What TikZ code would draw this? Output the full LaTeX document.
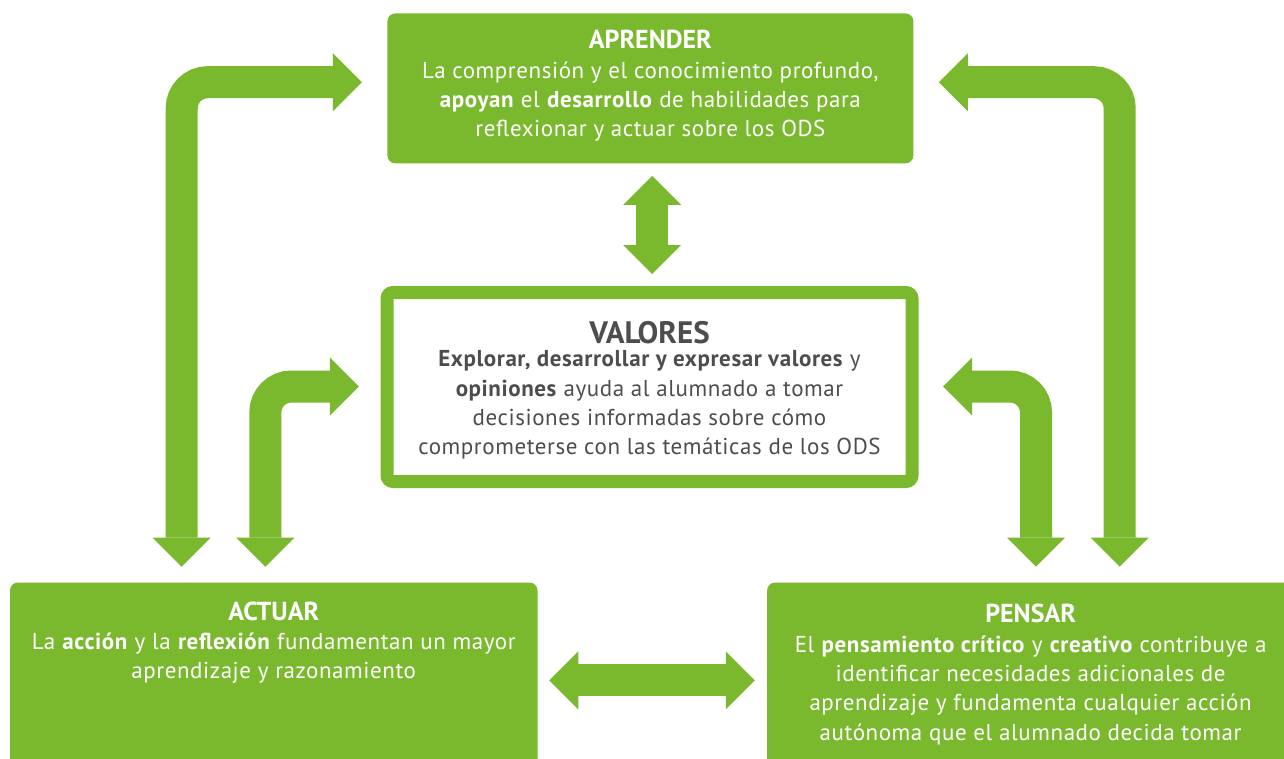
\documentclass[tikz,border=0pt]{standalone}
\usepackage{fontspec}
\setmainfont{PT Sans}
\newfontfamily\odsbodyfont{PT Sans}[LetterSpace=2.5]
\usetikzlibrary{arrows.meta}
\definecolor{odsgreen}{HTML}{7AB92E}
\definecolor{odsgray}{HTML}{4D4D4D}
\begin{document}
\begin{tikzpicture}[x=1pt,y=-1pt,
  greenbox/.style={fill=odsgreen, draw=none, rounded corners=8pt},
  boxtitle/.style={text=white, font=\fontsize{26}{30}\selectfont\bfseries, anchor=base, inner sep=0pt},
  boxbody/.style={text=white, font=\odsbodyfont\fontsize{23}{29.3}\selectfont, align=center, anchor=north, inner sep=0pt},
  link/.style={draw=odsgreen, line width=32pt, rounded corners=26pt,
    {Triangle[length=29pt,width=58pt,line width=0pt]}-{Triangle[length=29pt,width=58pt,line width=0pt]}}]
\useasboundingbox (0,0) rectangle (1284,758);
\clip (0,0) rectangle (1284,758);
\fill[white] (0,0) rectangle (1284,758);

% boxes
\node[greenbox, minimum width=526pt, minimum height=150pt] (aprender) at (650.4,88.4) {};
\node[draw=odsgreen, line width=13pt, fill=white, rounded corners=6pt,
      minimum width=525pt, minimum height=189pt] (valores) at (649.5,387) {};
\node[greenbox, minimum width=527.5pt, minimum height=200pt] (actuar) at (273.75,682.5) {};
\node[greenbox, minimum width=527pt, minimum height=200pt] (pensar) at (1030.6,682.5) {};

% connector guide coordinates
\coordinate (lo) at (181.7,82.2);
\coordinate (li) at (265.3,386.5);
\coordinate (ro) at (1119.7,82.2);
\coordinate (ri) at (1036,386.5);
\coordinate (vx) at (652.2,220);
\coordinate (hy) at (650,680.3);

% connectors
\draw[link, shorten <=15.6pt, shorten >=25.4pt] (lo |- actuar.north) |- (aprender.west |- lo);
\draw[link, shorten <=15.6pt, shorten >=21.7pt] (li |- actuar.north) |- (valores.west |- li);
\draw[link, shorten <=15.6pt, shorten >=25.3pt] (ro |- pensar.north) |- (aprender.east |- ro);
\draw[link, shorten <=15.6pt, shorten >=24.5pt] (ri |- pensar.north) |- (valores.east |- ri);
\draw[link, shorten <=12.2pt, shorten >=12pt] (vx |- aprender.south) -- (vx |- valores.north);
\draw[link, shorten <=11.6pt, shorten >=12.1pt] (actuar.east |- hy) -- (pensar.west |- hy);

% texts
\node[boxtitle] (aprtitle) at (650.4,48) {APRENDER};
\node[boxbody] (aprbody) at (650.4,57.5) {La comprensión y el conocimiento profundo,\strut\\
  \textbf{apoyan} el \textbf{desarrollo} de habilidades para\\
  reflexionar y actuar sobre los ODS};

\node[boxtitle, text=odsgray, font=\fontsize{31}{34}\selectfont\bfseries] (valtitle) at (649.5,343) {VALORES};
\node[boxbody, text=odsgray] (valbody) at (649.5,346) {\textbf{Explorar, desarrollar y expresar valores} y\strut\\
  \textbf{opiniones} ayuda al alumnado a tomar\\
  decisiones informadas sobre cómo\\
  comprometerse con las temáticas de los ODS};

\node[boxtitle] (acttitle) at (273.75,620) {ACTUAR};
\node[boxbody] (actbody) at (273.75,628.5) {La \textbf{acción} y la \textbf{reflexión} fundamentan un mayor\strut\\
  aprendizaje y razonamiento};

\node[boxtitle] (pentitle) at (1030.6,622) {PENSAR};
\node[boxbody] (penbody) at (1030.6,631.5) {El \textbf{pensamiento crítico} y \textbf{creativo} contribuye a\strut\\
  identificar necesidades adicionales de\\
  aprendizaje y fundamenta cualquier acción\\
  autónoma que el alumnado decida tomar};
\end{tikzpicture}
\end{document}
